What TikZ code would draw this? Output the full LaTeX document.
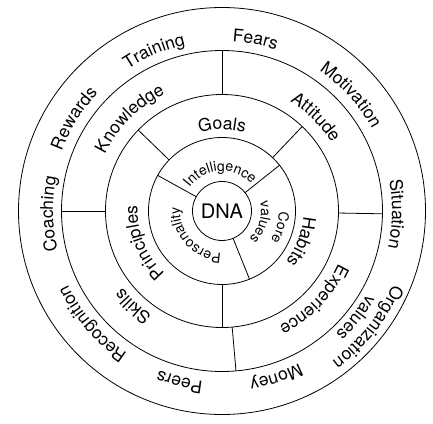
\documentclass[tikz,border=0pt]{standalone}
\usepackage{fontspec}
\setmainfont{TeX Gyre Heros}
\usetikzlibrary{decorations.text}

\tikzset{
  biglbl/.style={decorate, decoration={text along path, text align=center,
      text={|\fontsize{17.5}{20}\selectfont|#1}}},
  smalllbl/.style={decorate, decoration={text along path, text align=center,
      text={|\fontsize{14}{16}\selectfont|#1}}},
}

\begin{document}
\begin{tikzpicture}[line width=0.8pt]
  \useasboundingbox (-222pt,-212pt) rectangle (211pt,211pt);

  % 円
  \foreach \r in {29.5pt,73.5pt,116.5pt,160.5pt,203.5pt}
    \draw (0,0) circle (\r);

  % 仕切り線
  \foreach \a in {151,38.5,-68} \draw (\a:29.5pt) -- (\a:73.5pt);
  \foreach \a in {136,46.5,-90} \draw (\a:73.5pt) -- (\a:116.5pt);
  \foreach \a in {90,180,-1,-85} \draw (\a:116.5pt) -- (\a:160.5pt);

  % 中心
  \node[font=\fontsize{20}{23}\selectfont] (dna) at (0,0) {DNA};

  % ラベル（外側）
  \foreach \a/\r/\word in {113/170pt/Training, 79/170pt/Fears, 42/171pt/Motivation,
      -1/170pt/Situation, -38.5/186pt/Organization, -38.5/167pt/values,
      -72/171pt/Money, -104/171pt/Peers, 221/171pt/Recognition,
      181/169pt/Coaching, 148/171pt/Rewards,
      135/130pt/Knowledge, 45/129pt/Attitude, -44/128pt/Experience, 227/126pt/Skills,
      90/81.5pt/Goals, -21/81.5pt/Habits, 202/84.5pt/Principles}
    \path[biglbl/.expand once=\word] (\a+60:\r) arc[start angle=\a+60, end angle=\a-60, radius=\r];

  % ラベル（内側）
  \foreach \a/\r/\word in {93/40pt/Intelligence, 222/42pt/Personality,
      -16/57pt/Core, -16/39pt/values}
    \path[smalllbl/.expand once=\word] (\a+85:\r) arc[start angle=\a+85, end angle=\a-85, radius=\r];
\end{tikzpicture}
\end{document}
